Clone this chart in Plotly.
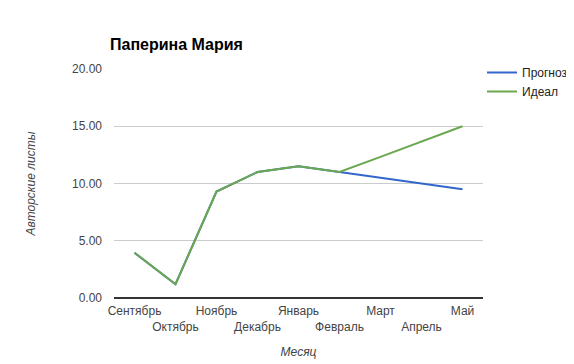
import plotly.graph_objects as go

months = ["Сентябрь", "Октябрь", "Ноябрь", "Декабрь", "Январь", "Февраль", "Март", "Апрель", "Май"]
prognoz = [3.95, 1.2, 9.3, 11.0, 11.5, 11.0, 10.5, 10.0, 9.5]
ideal = [3.95, 1.2, 9.3, 11.0, 11.5, 11.0, 12.33, 13.67, 15.0]
y_ticks = [0, 5, 10, 15, 20]

FONT = "Arial, Liberation Sans, sans-serif"
W, H = 566, 356  # page body adds an 8px margin

ticktext = [m if i % 2 == 0 else "<br>" + m for i, m in enumerate(months)]

fig = go.Figure()
fig.add_trace(go.Scatter(x=months, y=prognoz, mode="lines", name="Прогноз",
                         line=dict(color="#3366cc", width=2)))
fig.add_trace(go.Scatter(x=months, y=ideal, mode="lines", name="Идеал",
                         line=dict(color="#6aa84f", width=2)))

fig.update_layout(
    width=W, height=H,
    margin=dict(l=106, r=91, t=61, b=66, autoexpand=False),
    paper_bgcolor="white", plot_bgcolor="white",
    font=dict(family=FONT, size=12, color="#444"),
    title=dict(text="<b>Паперина Мария</b>", xref="container", yref="container",
               x=102 / W, xanchor="left", y=1 - 36 / H, yanchor="middle",
               font=dict(family=FONT, size=16, color="#000")),
    legend=dict(xref="container", yref="container",
                x=474 / W, xanchor="left", y=1 - 50 / H, yanchor="top",
                font=dict(family=FONT, size=12, color="#222"),
                itemwidth=30, tracegroupgap=0, bgcolor="rgba(0,0,0,0)"),
    xaxis=dict(
        tickmode="array", tickvals=months, ticktext=ticktext, tickangle=0,
        showgrid=False, showline=False, zeroline=False, ticks="",
        automargin=False, ticklabelstandoff=4,
        tickfont=dict(size=12, color="#444"),
        title=dict(text="<i>Месяц</i>", standoff=15, font=dict(size=12, color="#444")),
        range=[-0.5, 8.5],
    ),
    yaxis=dict(
        range=[0, 20], tickvals=y_ticks, tickformat=".2f",
        showgrid=True, gridcolor="#cccccc", gridwidth=1,
        zeroline=True, zerolinecolor="#333333", zerolinewidth=1.5,
        showline=False, ticks="", automargin=False, ticklabelstandoff=11,
        tickfont=dict(size=12, color="#444"),
        title=dict(text="<i>Авторские листы</i>", standoff=33, font=dict(size=12, color="#444")),
    ),
)

fig.write_html("out.html")
